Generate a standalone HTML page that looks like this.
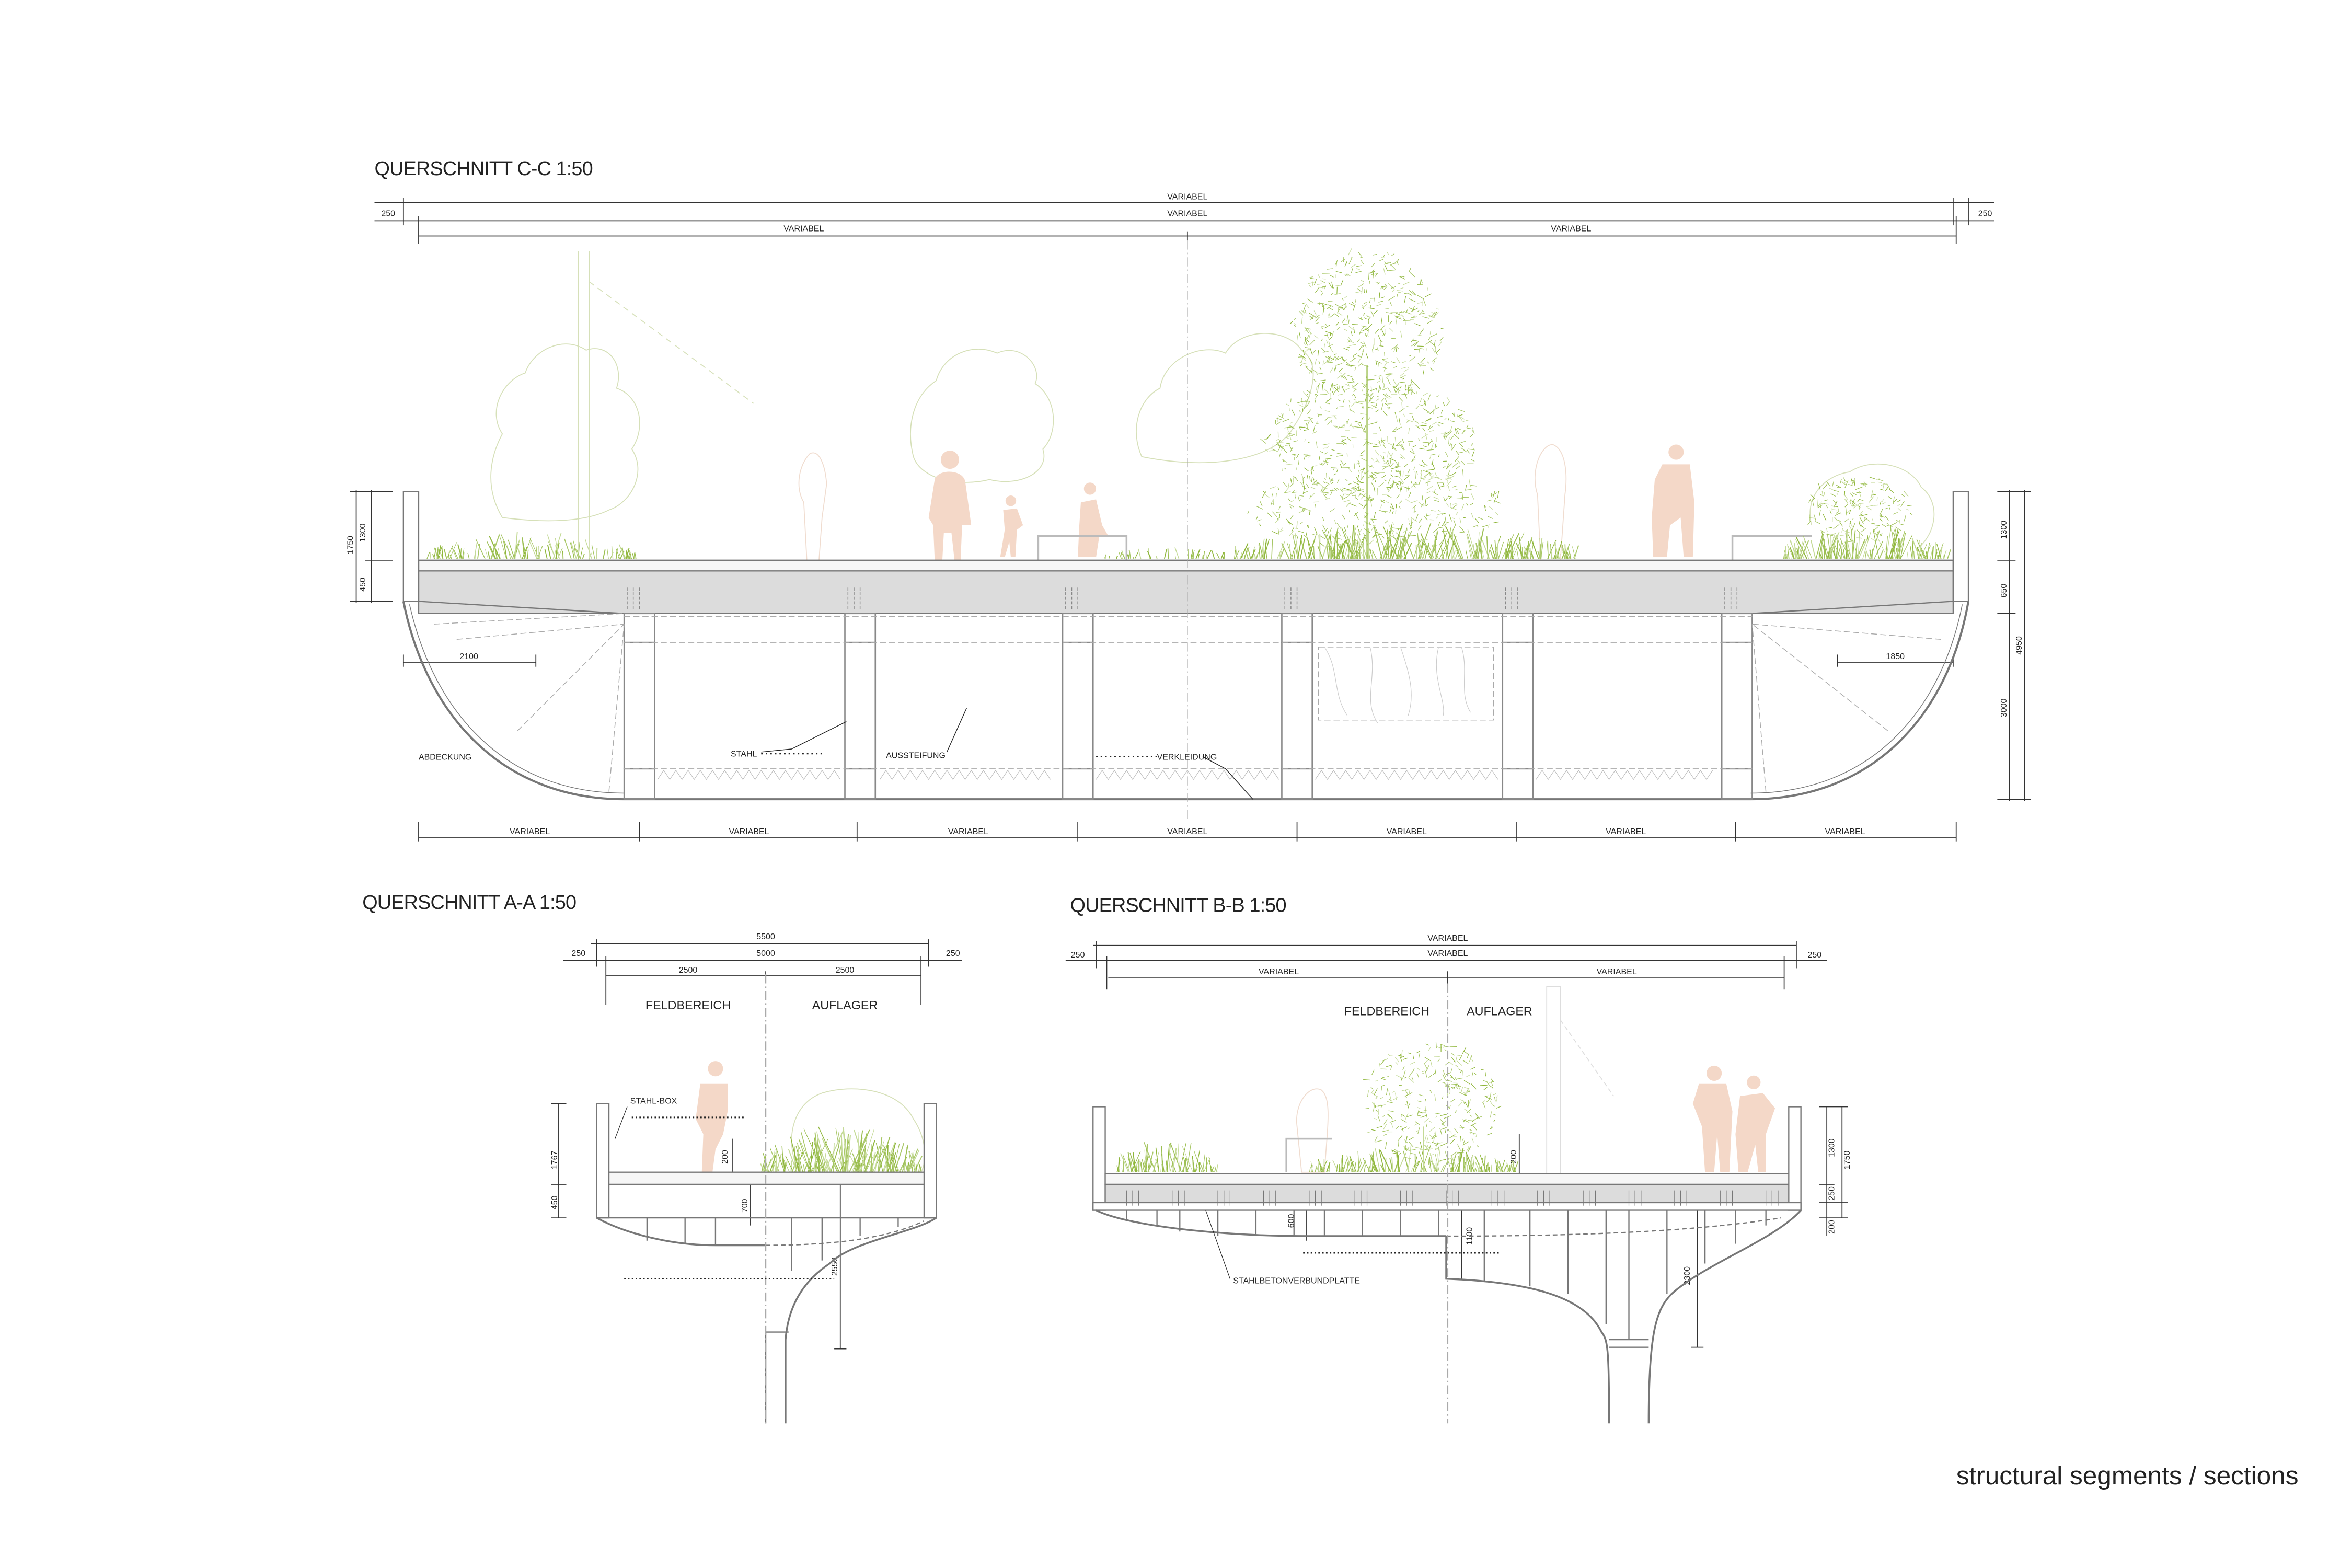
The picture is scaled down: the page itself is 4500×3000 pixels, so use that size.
<!DOCTYPE html>
<html><head><meta charset="utf-8"><style>
html,body{margin:0;padding:0;background:#fff;}
svg{display:block}
text{font-family:"Liberation Sans",sans-serif;fill:#222}
.d{font-size:5.5px}
.t{font-size:13px;letter-spacing:-0.3px}
</style></head><body>
<svg id="s" width="4500" height="3000" viewBox="0 0 1545 1030" preserveAspectRatio="none" xmlns="http://www.w3.org/2000/svg">
<g fill="none" stroke="#333" stroke-width="0.6">
<line x1="246" y1="133" x2="1310" y2="133"/>
<line x1="246" y1="145" x2="1310" y2="145"/>
<line x1="275" y1="155" x2="1285" y2="155"/>
<line x1="265" y1="130" x2="265" y2="148"/><line x1="275" y1="142" x2="275" y2="160"/>
<line x1="1283" y1="130" x2="1283" y2="148"/><line x1="1293" y1="130" x2="1293" y2="148"/><line x1="1285" y1="142" x2="1285" y2="160"/>
<line x1="780" y1="152" x2="780" y2="158"/>
<line x1="275" y1="550" x2="1285" y2="550"/>
<g><line x1="275" y1="540" x2="275" y2="553"/><line x1="420" y1="540" x2="420" y2="553"/><line x1="563" y1="540" x2="563" y2="553"/><line x1="708" y1="540" x2="708" y2="553"/><line x1="852" y1="540" x2="852" y2="553"/><line x1="996" y1="540" x2="996" y2="553"/><line x1="1140" y1="540" x2="1140" y2="553"/><line x1="1285" y1="540" x2="1285" y2="553"/></g>
<line x1="234" y1="322" x2="234" y2="396"/><line x1="244" y1="322" x2="244" y2="396"/>
<line x1="230" y1="323" x2="258" y2="323"/><line x1="240" y1="368" x2="258" y2="368"/><line x1="230" y1="395" x2="258" y2="395"/>
<line x1="1320" y1="322" x2="1320" y2="526"/><line x1="1330" y1="322" x2="1330" y2="526"/>
<line x1="1312" y1="323" x2="1334" y2="323"/><line x1="1312" y1="368" x2="1324" y2="368"/><line x1="1312" y1="403" x2="1324" y2="403"/><line x1="1312" y1="525" x2="1334" y2="525"/>
<line x1="265" y1="435" x2="352" y2="435"/><line x1="265" y1="430" x2="265" y2="438"/><line x1="352" y1="430" x2="352" y2="438"/>
<line x1="1207" y1="435" x2="1283" y2="435"/><line x1="1207" y1="430" x2="1207" y2="438"/><line x1="1283" y1="430" x2="1283" y2="438"/>
</g>
<g class="d" text-anchor="middle">
<text x="780" y="131">VARIABEL</text><text x="780" y="142">VARIABEL</text>
<text x="528" y="152">VARIABEL</text><text x="1032" y="152">VARIABEL</text>
<text x="255" y="142">250</text><text x="1304" y="142">250</text>
<text x="348" y="548">VARIABEL</text><text x="492" y="548">VARIABEL</text><text x="636" y="548">VARIABEL</text><text x="780" y="548">VARIABEL</text><text x="924" y="548">VARIABEL</text><text x="1068" y="548">VARIABEL</text><text x="1212" y="548">VARIABEL</text>
<text x="308" y="433">2100</text><text x="1245" y="433">1850</text>
<text transform="translate(232,358) rotate(-90)">1750</text>
<text transform="translate(240,350) rotate(-90)">1300</text>
<text transform="translate(240,384) rotate(-90)">450</text>
<text transform="translate(1318,348) rotate(-90)">1300</text>
<text transform="translate(1318,388) rotate(-90)">650</text>
<text transform="translate(1318,465) rotate(-90)">3000</text>
<text transform="translate(1328,424) rotate(-90)">4950</text>
</g>
<text class="t" x="246" y="115">QUERSCHNITT C-C 1:50</text>

<g fill="none" stroke="#d6e0b8" stroke-width="0.6">
<path d="M330,340 C318,320 322,300 330,285 C320,270 330,250 345,245 C350,230 370,220 385,230 C400,225 410,240 405,255 C420,260 425,280 415,295 C425,310 415,330 400,335 C390,340 370,345 330,340Z"/>
<path d="M600,300 C595,280 600,260 615,250 C620,232 640,225 655,232 C670,225 685,240 680,252 C695,262 695,285 685,295 C690,310 670,320 650,315 C630,320 605,315 600,300Z"/>
<path d="M750,300 C742,282 748,262 762,255 C765,235 790,225 805,232 C815,215 845,215 855,230 C870,240 860,265 850,280 C840,300 800,310 750,300Z"/>
<path d="M1190,345 C1185,325 1200,312 1215,310 C1230,300 1255,305 1262,320 C1275,330 1272,350 1260,360"/>
<path d="M525,770 C515,750 520,725 540,718 C560,712 590,715 600,735 C610,750 608,765 605,770"/>
<line x1="380" y1="165" x2="380" y2="368"/><line x1="387" y1="165" x2="387" y2="368"/>
<line x1="387" y1="185" x2="495" y2="265" stroke-dasharray="4 3"/>
</g>
<g fill="none" stroke="#f0dccf" stroke-width="0.6">
<path d="M530,368 L528,330 C522,320 525,305 532,298 C538,295 542,305 543,318 L540,340 L538,368Z"/>
<path d="M1012,368 L1010,325 C1005,310 1012,292 1020,292 C1028,295 1030,310 1028,325 L1025,368Z"/>
<path d="M855,770 L852,740 C850,725 860,712 868,716 C875,722 872,740 870,770Z"/>
</g>
<g fill="#f4d8c8">
<circle cx="624" cy="302" r="6"/>
<path d="M614,368 L613,345 L610,340 L614,315 C616,308 632,308 634,316 L638,345 L632,345 L631,368 L627,368 L625,350 L620,350 L619,368Z"/>
<circle cx="664" cy="329" r="3.5"/>
<path d="M657,366 L660,348 L659,335 L668,334 L672,345 L668,348 L667,366 L664,366 L663,356 L660,366Z"/>
<circle cx="716" cy="321" r="4"/>
<path d="M708,366 L709,345 L710,330 L720,328 L724,345 L728,352 L722,353 L720,366Z"/>
<circle cx="1101" cy="297" r="5"/>
<path d="M1086,366 L1085,340 L1087,315 L1092,305 L1110,305 L1113,330 L1112,366 L1106,366 L1104,340 L1097,345 L1095,366Z"/>
<circle cx="470" cy="702" r="5"/>
<path d="M461,770 L462,745 L457,735 L460,712 L478,712 L478,730 L475,745 L470,755 L468,770Z"/>
<circle cx="1126" cy="705" r="5"/>
<path d="M1120,770 L1118,740 L1112,725 L1116,712 L1134,712 L1138,730 L1136,770 L1130,770 L1128,745 L1126,770Z"/>
<circle cx="1152" cy="711" r="4.5"/>
<path d="M1142,770 L1140,745 L1143,720 L1158,718 L1166,728 L1160,745 L1160,770 L1155,770 L1153,752 L1148,770Z"/>
</g>
<g fill="none" stroke="#bbb" stroke-width="1.2">
<path d="M682,368 L682,352 L740,352 L740,368"/>
<path d="M1138,368 L1138,352 L1190,352"/>
<path d="M845,770 L845,748 L875,748"/>
</g>
<g id="veg" stroke="#9bbf4a" stroke-width="0.5" fill="none"></g>

<g stroke="#777" stroke-width="0.8">
<rect x="275" y="375" width="1008" height="28" fill="#dcdcdc"/>
<path d="M275,368 L1283,368 L1283,375 L275,375Z" fill="#f6f6f6"/>
<path d="M275,395 L410,403 L1150,403 L1283,395" fill="none"/>
<rect x="265" y="323" width="10" height="72" fill="#fff"/>
<rect x="1283" y="323" width="10" height="72" fill="#fff"/>
<path d="M265,395 C280,470 330,525 410,525 L1150,525 C1230,525 1280,470 1293,395" fill="none" stroke-width="1.4"/>
<path d="M269,397 C285,468 332,521 410,521" fill="none" stroke-width="0.5"/>
<path d="M1289,397 C1275,468 1228,521 1150,521" fill="none" stroke-width="0.5"/>
</g>
<g stroke="#888" stroke-width="0.9" fill="none">
<rect x="410" y="403" width="20" height="19"/><rect x="410" y="505" width="20" height="20"/><line x1="410" y1="422" x2="410" y2="505"/><line x1="430" y1="422" x2="430" y2="505"/>
<rect x="555" y="403" width="20" height="19"/><rect x="555" y="505" width="20" height="20"/><line x1="555" y1="422" x2="555" y2="505"/><line x1="575" y1="422" x2="575" y2="505"/>
<rect x="698" y="403" width="20" height="19"/><rect x="698" y="505" width="20" height="20"/><line x1="698" y1="422" x2="698" y2="505"/><line x1="718" y1="422" x2="718" y2="505"/>
<rect x="842" y="403" width="20" height="19"/><rect x="842" y="505" width="20" height="20"/><line x1="842" y1="422" x2="842" y2="505"/><line x1="862" y1="422" x2="862" y2="505"/>
<rect x="987" y="403" width="20" height="19"/><rect x="987" y="505" width="20" height="20"/><line x1="987" y1="422" x2="987" y2="505"/><line x1="1007" y1="422" x2="1007" y2="505"/>
<rect x="1131" y="403" width="20" height="19"/><rect x="1131" y="505" width="20" height="20"/><line x1="1131" y1="422" x2="1131" y2="505"/><line x1="1151" y1="422" x2="1151" y2="505"/>
</g>
<g stroke="#aaa" stroke-width="0.5" fill="none" stroke-dasharray="4 2">
<line x1="410" y1="405" x2="1151" y2="405"/><line x1="410" y1="422" x2="1151" y2="422"/>
<line x1="410" y1="505" x2="1151" y2="505"/>
<line x1="285" y1="410" x2="410" y2="403"/><line x1="300" y1="420" x2="410" y2="410"/><line x1="340" y1="480" x2="410" y2="410"/><line x1="400" y1="520" x2="410" y2="410"/>
<line x1="1275" y1="420" x2="1151" y2="410"/><line x1="1240" y1="480" x2="1151" y2="410"/><line x1="1160" y1="520" x2="1151" y2="410"/>
<line x1="780" y1="158" x2="780" y2="540" stroke-dasharray="6 2 1 2"/>
<rect x="866" y="425" width="115" height="48"/>
</g>
<g stroke="#ccc" stroke-width="0.4" fill="none">
<path d="M870,425 C880,440 875,455 885,470 M900,425 C905,445 895,460 905,475 M920,425 C925,440 930,455 925,470 M945,425 C940,445 950,460 948,470 M960,425 C965,440 958,455 966,468"/>
</g>
<g stroke="#bbb" stroke-width="0.4" fill="none">
<path d="M432,512 l4,-6 l4,6 l4,-6 l4,6 l4,-6 l4,6 l4,-6 l4,6 l4,-6 l4,6 l4,-6 l4,6 l4,-6 l4,6 l4,-6 l4,6 l4,-6 l4,6 l4,-6 l4,6 l4,-6 l4,6 l4,-6 l4,6 l4,-6 l4,6 l4,-6 l4,6 l4,-6 l4,6"/>
<path d="M578,512 l4,-6 l4,6 l4,-6 l4,6 l4,-6 l4,6 l4,-6 l4,6 l4,-6 l4,6 l4,-6 l4,6 l4,-6 l4,6 l4,-6 l4,6 l4,-6 l4,6 l4,-6 l4,6 l4,-6 l4,6 l4,-6 l4,6 l4,-6 l4,6 l4,-6 l4,6"/>
<path d="M720,512 l4,-6 l4,6 l4,-6 l4,6 l4,-6 l4,6 l4,-6 l4,6 l4,-6 l4,6 l4,-6 l4,6 l4,-6 l4,6 l4,-6 l4,6 l4,-6 l4,6 l4,-6 l4,6 l4,-6 l4,6 l4,-6 l4,6 l4,-6 l4,6 l4,-6 l4,6 l4,-6 l4,6"/>
<path d="M864,512 l4,-6 l4,6 l4,-6 l4,6 l4,-6 l4,6 l4,-6 l4,6 l4,-6 l4,6 l4,-6 l4,6 l4,-6 l4,6 l4,-6 l4,6 l4,-6 l4,6 l4,-6 l4,6 l4,-6 l4,6 l4,-6 l4,6 l4,-6 l4,6 l4,-6 l4,6 l4,-6 l4,6"/>
<path d="M1009,512 l4,-6 l4,6 l4,-6 l4,6 l4,-6 l4,6 l4,-6 l4,6 l4,-6 l4,6 l4,-6 l4,6 l4,-6 l4,6 l4,-6 l4,6 l4,-6 l4,6 l4,-6 l4,6 l4,-6 l4,6 l4,-6 l4,6 l4,-6 l4,6 l4,-6 l4,6 l4,-6"/>
</g>
<g stroke="#888" stroke-width="0.5" fill="none">
<path d="M412,386v14M416,386v14M420,386v14M557,386v14M561,386v14M565,386v14M700,386v14M704,386v14M708,386v14M844,386v14M848,386v14M852,386v14M989,386v14M993,386v14M997,386v14M1133,386v14M1137,386v14M1141,386v14" stroke-dasharray="2 1"/>
</g>
<g stroke="#222" stroke-width="0.5" fill="none">
<path d="M500,494 L520,492 L556,474"/><path d="M622,494 L635,465"/><path d="M790,497 L805,505 L823,525"/>
</g>
<g stroke="#222" stroke-width="1" stroke-dasharray="1 2" fill="none">
<line x1="500" y1="495" x2="540" y2="495"/><line x1="720" y1="497" x2="760" y2="497"/>
</g>
<g class="d"><text x="275" y="499">ABDECKUNG</text><text x="480" y="497">STAHL</text><text x="582" y="498">AUSSTEIFUNG</text><text x="760" y="499">VERKLEIDUNG</text></g>

<!-- A-A -->
<text class="t" x="238" y="597">QUERSCHNITT A-A 1:50</text>
<g fill="none" stroke="#333" stroke-width="0.6">
<line x1="388" y1="620" x2="610" y2="620"/><line x1="370" y1="631" x2="632" y2="631"/><line x1="398" y1="641" x2="605" y2="641"/>
<line x1="392" y1="617" x2="392" y2="635"/><line x1="398" y1="628" x2="398" y2="660"/><line x1="605" y1="628" x2="605" y2="660"/><line x1="610" y1="617" x2="610" y2="635"/><line x1="503" y1="638" x2="503" y2="645"/>
<line x1="367" y1="725" x2="367" y2="800"/><line x1="362" y1="725" x2="372" y2="725"/><line x1="362" y1="778" x2="372" y2="778"/><line x1="362" y1="800" x2="372" y2="800"/>
<line x1="481" y1="748" x2="481" y2="777"/><line x1="493" y1="778" x2="493" y2="805"/><line x1="552" y1="778" x2="552" y2="886"/><line x1="548" y1="886" x2="556" y2="886"/>
</g>
<g class="d" text-anchor="middle">
<text x="503" y="617">5500</text><text x="503" y="628">5000</text><text x="452" y="639">2500</text><text x="555" y="639">2500</text>
<text x="380" y="628">250</text><text x="626" y="628">250</text>
<text transform="translate(366,762) rotate(-90)">1767</text><text transform="translate(366,790) rotate(-90)">450</text>
<text transform="translate(478,760) rotate(-90)">200</text><text transform="translate(491,792) rotate(-90)">700</text><text transform="translate(550,832) rotate(-90)">2550</text>
</g>
<g text-anchor="middle" style="font-size:8px"><text x="452" y="663">FELDBEREICH</text><text x="555" y="663">AUFLAGER</text></g>
<text class="d" x="414" y="725">STAHL-BOX</text>
<g stroke="#777" stroke-width="0.8" fill="none">
<rect x="392" y="725" width="8" height="75" fill="#fff"/><rect x="607" y="725" width="8" height="75" fill="#fff"/>
<rect x="400" y="770" width="207" height="8" fill="#f6f6f6"/>
<line x1="400" y1="778" x2="607" y2="778"/><line x1="392" y1="800" x2="615" y2="800"/>
<path d="M392,800 C410,810 440,818 470,818 L503,818" stroke-width="1.2"/>
<path d="M615,800 C600,810 560,815 545,830 C530,840 518,855 516,880 L516,935" stroke-width="1.2"/>
<line x1="503" y1="875" x2="503" y2="935"/><line x1="503" y1="875" x2="518" y2="875"/>
<path d="M425,800 v15 M450,800 v17 M470,800 v18 M520,800 v35 M540,800 v28 M565,800 v12 M590,800 v6"/>
<path d="M503,818 C540,818 580,815 607,802" stroke-dasharray="3 2"/>
<line x1="503" y1="640" x2="503" y2="935" stroke-dasharray="6 2 1 2" stroke="#aaa"/>
</g>
<g stroke="#222" stroke-width="1" stroke-dasharray="1 1.5" fill="none"><line x1="415" y1="734" x2="490" y2="734"/><line x1="410" y1="840" x2="548" y2="840"/></g>
<path d="M412,727 L404,748" stroke="#222" stroke-width="0.4"/>

<!-- B-B -->
<text class="t" x="703" y="599">QUERSCHNITT B-B 1:50</text>
<g fill="none" stroke="#333" stroke-width="0.6">
<line x1="718" y1="621" x2="1180" y2="621"/><line x1="700" y1="631" x2="1200" y2="631"/><line x1="728" y1="642" x2="1172" y2="642"/>
<line x1="720" y1="618" x2="720" y2="636"/><line x1="727" y1="628" x2="727" y2="650"/><line x1="1172" y1="628" x2="1172" y2="650"/><line x1="1180" y1="618" x2="1180" y2="636"/><line x1="951" y1="638" x2="951" y2="646"/>
<line x1="1200" y1="727" x2="1200" y2="812"/><line x1="1210" y1="727" x2="1210" y2="800"/>
<line x1="1195" y1="727" x2="1214" y2="727"/><line x1="1195" y1="778" x2="1205" y2="778"/><line x1="1195" y1="790" x2="1214" y2="790"/><line x1="1195" y1="800" x2="1214" y2="800"/>
<line x1="998" y1="745" x2="998" y2="778"/><line x1="858" y1="790" x2="858" y2="815"/><line x1="960" y1="790" x2="960" y2="840"/><line x1="1115" y1="790" x2="1115" y2="885"/><line x1="1111" y1="885" x2="1119" y2="885"/>
</g>
<g class="d" text-anchor="middle">
<text x="951" y="618">VARIABEL</text><text x="951" y="628">VARIABEL</text><text x="840" y="640">VARIABEL</text><text x="1062" y="640">VARIABEL</text>
<text x="708" y="629">250</text><text x="1192" y="629">250</text>
<text transform="translate(1205,754) rotate(-90)">1300</text><text transform="translate(1205,784) rotate(-90)">250</text><text transform="translate(1215,762) rotate(-90)">1750</text><text transform="translate(1205,806) rotate(-90)">200</text>
<text transform="translate(996,760) rotate(-90)">200</text><text transform="translate(850,802) rotate(-90)">600</text><text transform="translate(967,812) rotate(-90)">1100</text><text transform="translate(1110,838) rotate(-90)">2300</text>
</g>
<g text-anchor="middle" style="font-size:8px"><text x="911" y="667">FELDBEREICH</text><text x="985" y="667">AUFLAGER</text></g>
<text class="d" x="810" y="843">STAHLBETONVERBUNDPLATTE</text>
<g fill="none" stroke="#ddd" stroke-width="0.6"><rect x="1016" y="648" width="9" height="123"/><line x1="1025" y1="670" x2="1060" y2="720" stroke-dasharray="3 2"/></g>
<g stroke="#777" stroke-width="0.8" fill="none">
<rect x="718" y="727" width="8" height="68" fill="#fff"/><rect x="1175" y="727" width="8" height="68" fill="#fff"/>
<rect x="726" y="771" width="449" height="7" fill="#f6f6f6"/>
<rect x="726" y="778" width="449" height="12" fill="#dcdcdc"/>
<rect x="718" y="790" width="465" height="5" fill="#fff"/>
<path d="M720,795 C740,805 800,812 860,812 L950,812" stroke-width="1.2"/>
<path d="M950,812 L950,840 C1000,842 1040,850 1052,875 C1056,880 1057,885 1057,935" stroke-width="1.2"/>
<path d="M1183,795 C1165,815 1120,830 1098,850 C1088,860 1083,875 1083,935" stroke-width="1.2"/>
<line x1="1057" y1="880" x2="1083" y2="880"/><line x1="1057" y1="885" x2="1083" y2="885"/>
<path d="M740,795v6 M760,795v10 M775,795v14 M800,795v17 M825,795v17 M850,795v17 M870,795v17 M895,795v17 M920,795v17 M945,795v17 M975,795v47 M1005,795v50 M1030,795v55 M1055,795v75 M1070,795v85 M1095,795v55 M1120,795v35 M1140,795v22 M1160,795v10"/>
<path d="M950,812 C1050,812 1120,808 1170,800" stroke-dasharray="3 2"/>
<path d="M740,792v-10M744,792v-10M748,792v-10M770,792v-10M774,792v-10M778,792v-10M800,792v-10M804,792v-10M808,792v-10M830,792v-10M834,792v-10M838,792v-10M860,792v-10M864,792v-10M868,792v-10M890,792v-10M894,792v-10M898,792v-10M920,792v-10M924,792v-10M928,792v-10M950,792v-10M954,792v-10M958,792v-10M980,792v-10M984,792v-10M988,792v-10M1010,792v-10M1014,792v-10M1018,792v-10M1040,792v-10M1044,792v-10M1048,792v-10M1070,792v-10M1074,792v-10M1078,792v-10M1100,792v-10M1104,792v-10M1108,792v-10M1130,792v-10M1134,792v-10M1138,792v-10M1160,792v-10M1164,792v-10M1168,792v-10" stroke-width="0.4"/>
<line x1="951" y1="646" x2="951" y2="935" stroke-dasharray="6 2 1 2" stroke="#aaa"/>
</g>
<g stroke="#222" stroke-width="1" stroke-dasharray="1 1.5" fill="none"><line x1="856" y1="823" x2="985" y2="823"/></g>
<path d="M808,840 L792,795" stroke="#222" stroke-width="0.4" fill="none"/>

<text x="1285" y="975" style="font-size:17px">structural segments / sections</text>
</svg>
<script>
(function(){
var g=document.getElementById('veg');var s=12345;function r(){s=(s*16807)%2147483647;return s/2147483647;}
var cols=['#8fb63a','#a8c766','#c4da96','#9cbf52'];
function L(x1,y1,x2,y2,w){var l=document.createElementNS('http://www.w3.org/2000/svg','line');l.setAttribute('x1',x1.toFixed(1));l.setAttribute('y1',y1.toFixed(1));l.setAttribute('x2',x2.toFixed(1));l.setAttribute('y2',y2.toFixed(1));l.setAttribute('stroke',cols[Math.floor(r()*4)]);l.setAttribute('stroke-width',w);g.appendChild(l);}
function grass(x0,x1,base,h,n){for(var i=0;i<n;i++){var t=r();var x=x0+t*(x1-x0);var env=Math.sin(Math.PI*t);var hh=h*(0.2+r()*0.8)*(0.4+0.6*env);var dx=(r()-0.5)*hh*1.0;L(x,base,x+dx,base-hh,0.3+r()*0.4);}}
function crown(cx,cy,rx,ry,n){for(var i=0;i<n;i++){var a=r()*6.283,d=Math.sqrt(r());var x=cx+Math.cos(a)*rx*d,y=cy+Math.sin(a)*ry*d;var b=r()*6.283,len=1.5+r()*3.5;L(x,y,x+Math.cos(b)*len,y+Math.sin(b)*len,0.4);}}
grass(280,420,367,18,110);grass(725,810,367,8,40);grass(810,1035,367,24,260);grass(1170,1280,367,22,140);
crown(898,215,50,50,500);crown(900,290,70,40,550);crown(905,335,85,25,350);crown(1222,335,35,22,200);
crown(940,725,45,40,350);
grass(732,800,770,22,80);grass(860,1000,770,18,150);grass(500,605,770,30,170);
L(898,240,898,367,0.8);L(935,740,935,770,0.8);
})();
</script>
</body></html>
